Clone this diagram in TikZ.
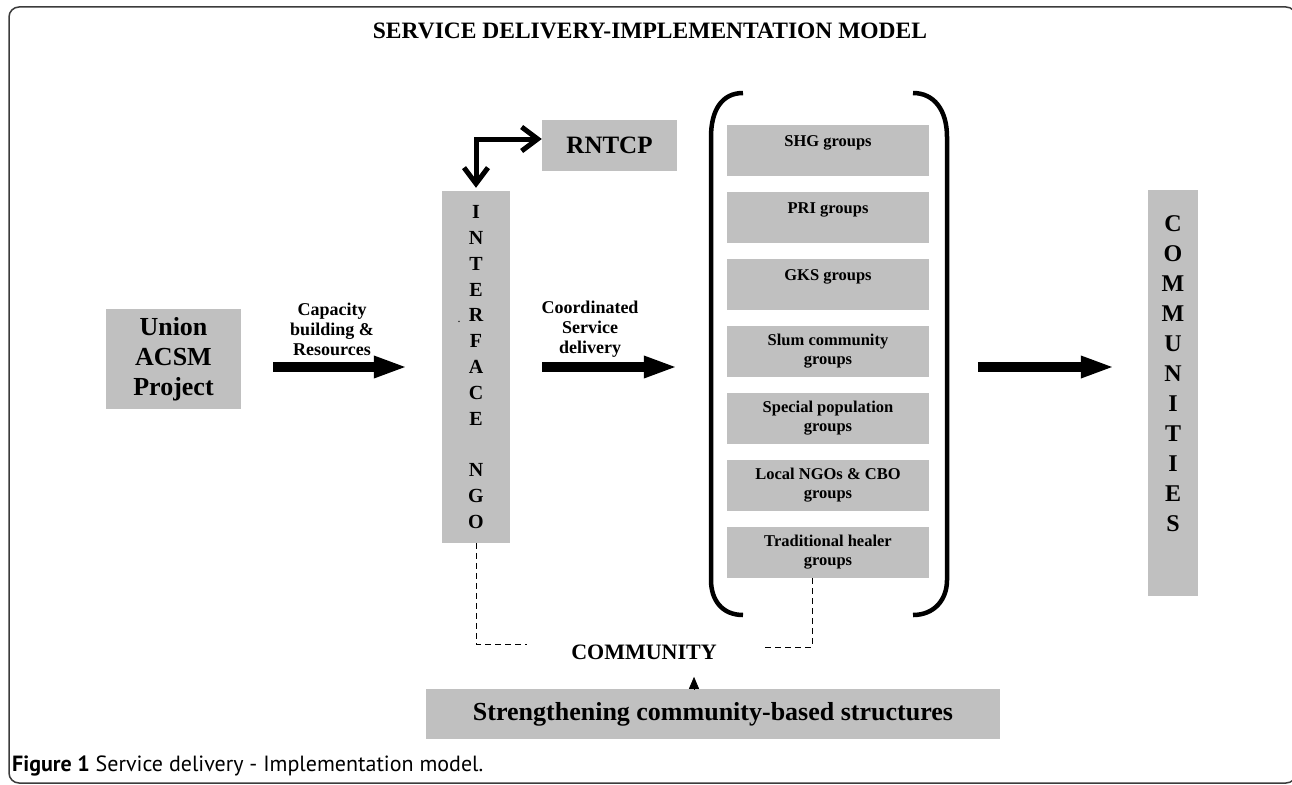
\documentclass[tikz,border=0pt]{standalone}
\usepackage{fontspec}
\setmainfont{Liberation Serif}
\newfontfamily\capfont{PT Sans}
\usetikzlibrary{arrows.meta,calc}

\definecolor{boxgray}{RGB}{192,192,192}
\definecolor{framegray}{RGB}{60,60,60}

\tikzset{
  graybox/.style={fill=boxgray,inner sep=0pt,align=center,font=\bfseries},
  groupbox/.style={graybox,minimum width=202pt,minimum height=51pt,font=\bfseries\fontsize{16.5}{19}\selectfont},
  arrowlbl/.style={align=center,inner sep=0pt,font=\bfseries\fontsize{18}{20}\selectfont},
  bigarrow/.style={line width=10pt,-{Triangle[length=34pt,width=20pt]}},
  dashline/.style={dash pattern=on 6pt off 4pt,line width=1pt},
  bracket/.style={line width=4.5pt}
}

\begin{document}
\begin{tikzpicture}[x=1pt,y=-1pt]
        \useasboundingbox (0,0) rectangle (1292,784);
        \draw[framegray,line width=1.5pt,rounded corners=10pt] (9,7) rectangle (1296,783);
        \node[font=\bfseries\fontsize{23.5}{28}\selectfont] (title) at (650,31) {SERVICE DELIVERY-IMPLEMENTATION MODEL};

        % left part
        \node[graybox,minimum width=135pt,minimum height=100pt,font=\bfseries\fontsize{26}{30}\selectfont] (union) at (173.5,359) {Union\\ACSM\\Project};
        \node[graybox,minimum width=68pt,minimum height=352pt,font=\bfseries\fontsize{20}{25.8}\selectfont] (ngo) at (476,367) {I\\N\\T\\E\\R\\F\\A\\C\\E\\\mbox{}\\N\\G\\O};
        \node[inner sep=0pt,font=\fontsize{12}{12}\selectfont] (dot) at (459,322) {.};
        \node[graybox,minimum width=135pt,minimum height=51pt,font=\bfseries\fontsize{25}{30}\selectfont] (rntcp) at (609.5,145.5) {RNTCP};
        \node[arrowlbl] (caplbl) at (332,329) {Capacity\\building \&\\Resources};
        \node[arrowlbl] (coordlbl) at (590,329) {Coordinated\\Service\\delivery};

        % groups
        \node[groupbox] (shg) at (828,150.5) {SHG groups\\\mbox{}};
        \node[groupbox] (pri) at (828,217.5) {PRI groups\\\mbox{}};
        \node[groupbox] (gks) at (828,284.5) {GKS groups\\\mbox{}};
        \node[groupbox] (slum) at (828,351.5) {Slum community\\groups};
        \node[groupbox] (special) at (828,418.5) {Special population\\groups};
        \node[groupbox] (local) at (828,485.5) {Local NGOs \& CBO\\groups};
        \node[groupbox] (trad) at (828,552.5) {Traditional healer\\groups};
        \draw[bracket] (743,93) .. controls (722,93) and (711,110) .. (711,137) -- (711,580) .. controls (711,600) and (722,615) .. (743,615);
        \draw[bracket] (913,93) .. controls (934,93) and (947,110) .. (947,137) -- (947,580) .. controls (947,600) and (934,615) .. (913,615);

        \node[graybox,minimum width=50pt,minimum height=406pt,font=\bfseries\fontsize{24}{30}\selectfont] (comm) at (1173,393) {C\\O\\M\\M\\U\\N\\I\\T\\I\\E\\S\\[8pt]\mbox{}};

        % bottom
        \node[inner sep=0pt,font=\bfseries\fontsize{22}{26}\selectfont] (community) at (644,652) {COMMUNITY};
        \node[graybox,minimum width=574pt,minimum height=50pt,font=\bfseries\fontsize{26}{30}\selectfont] (strength) at (713,714) {Strengthening community-based structures};
        \coordinate (tiptop) at ($(strength.north)+(-19,-12)$);
        \node[anchor=west,inner sep=0pt,font=\capfont\fontsize{22}{26}\selectfont] (caption) at (12,766) {\textbf{Figure 1} Service delivery - Implementation model.};

        \draw[bigarrow] ($(union.east |- ngo.west)+(32,0)$) -- ($(ngo.west)+(-34,0)$);
        \draw[bigarrow] ($(ngo.east)+(32,0)$) -- ($(ngo.east -| shg.west)+(-49,0)$);
        \draw[bigarrow] ($(comm.west |- ngo.east)+(-170,0)$) -- ($(comm.west |- ngo.east)+(-33,0)$);
        \draw[line width=5pt,{Straight Barb[length=16pt,width=24pt]}-{Straight Barb[length=16pt,width=24pt]}] ([yshift=3pt]ngo.north) |- ([yshift=6.5pt]rntcp.west);
        \draw[dashline] (ngo.south) |- ([shift={(-44,-8)}]community.west);
        \draw[dashline] ([xshift=-16pt]trad.south) |- ([shift={(44,-5)}]community.east);
        \draw[line width=0.8pt,-{Triangle[length=12pt,width=10pt]}] ([xshift=-19pt]strength.north) -- (tiptop);
      \end{tikzpicture}
\end{document}
